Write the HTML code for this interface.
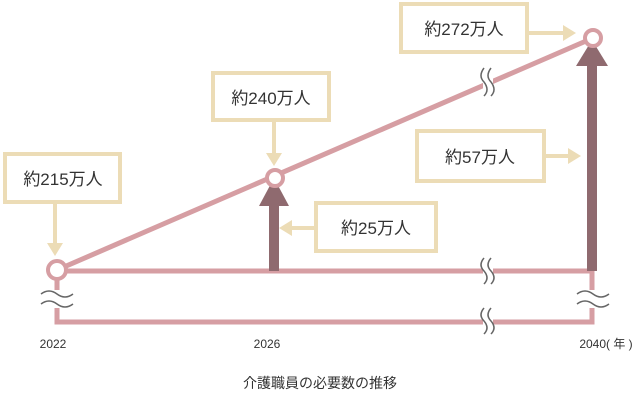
<!DOCTYPE html>
<html><head><meta charset="utf-8"><style>
body{margin:0;background:#fff;}
svg text{font-family:"Liberation Sans","Noto Sans CJK JP",sans-serif;fill:#333;}
</style></head><body>
<svg width="640" height="400" viewBox="0 0 640 400" xmlns="http://www.w3.org/2000/svg">
<g fill="none" stroke="#d69ea3" stroke-width="5">
<polyline points="57,270 57,322 592,322 592,270"/>
<line x1="57" y1="271" x2="592" y2="271"/>
<line x1="57" y1="270" x2="593" y2="38"/>
</g>
<g fill="#8f6a6f">
<rect x="269" y="198" width="10" height="73"/>
<polygon points="259,206 289,206 274,178"/>
<rect x="587" y="62" width="10" height="209"/>
<polygon points="576,66 608,66 592,40"/>
</g>
<g fill="#fff" stroke="#d69ea3" stroke-width="4">
<circle cx="57" cy="270" r="9"/>
<circle cx="275" cy="178" r="8"/>
<circle cx="593" cy="38" r="8"/>
</g>
<g fill="none" stroke="#fff" stroke-width="10">
<line x1="488" y1="62" x2="488" y2="100"/>
<line x1="488" y1="258" x2="488" y2="284"/>
<line x1="488" y1="308" x2="488" y2="336"/>
<line x1="57" y1="290" x2="57" y2="308"/>
<line x1="592" y1="290" x2="592" y2="308"/>
</g>
<g fill="none" stroke="#666" stroke-width="1.5">
<path d="M484,68 q-6,8 0,14 q6,8 0,14"/><path d="M491,68 q-6,8 0,14 q6,8 0,14"/>
<path d="M484,258 q-6,7 0,13 q6,7 0,13"/><path d="M491,258 q-6,7 0,13 q6,7 0,13"/>
<path d="M484,308 q-6,7 0,13 q6,7 0,13"/><path d="M491,308 q-6,7 0,13 q6,7 0,13"/>
<path d="M41,294 q8,-6 16,0 q8,6 16,0"/><path d="M41,304 q8,-6 16,0 q8,6 16,0"/>
<path d="M577,294 q8,-6 16,0 q8,6 16,0"/><path d="M577,304 q8,-6 16,0 q8,6 16,0"/>
</g>
<g fill="#fff" stroke="#ecdcb6" stroke-width="4">
<rect x="5" y="154" width="115" height="48"/>
<rect x="213" y="73" width="116" height="47"/>
<rect x="316" y="203" width="120" height="48"/>
<rect x="401" y="4" width="126" height="48"/>
<rect x="417" y="131" width="127" height="50"/>
</g>
<g stroke="#ecdcb6" stroke-width="4" fill="#ecdcb6">
<line x1="55" y1="202" x2="55" y2="245"/><polygon points="47,243 63,243 55,256" stroke="none"/>
<line x1="274" y1="120" x2="274" y2="155"/><polygon points="266,153 282,153 274,166" stroke="none"/>
<line x1="316" y1="228" x2="290" y2="228"/><polygon points="292,220 292,236 279,228" stroke="none"/>
<line x1="527" y1="33" x2="565" y2="33"/><polygon points="563,25 563,41 576,33" stroke="none"/>
<line x1="544" y1="156" x2="570" y2="156"/><polygon points="568,148 568,164 581,156" stroke="none"/>
</g>
<g font-size="17" text-anchor="middle">
<text x="63" y="185">約215万人</text>
<text x="271" y="104">約240万人</text>
<text x="376" y="234">約25万人</text>
<text x="464" y="35">約272万人</text>
<text x="480" y="163">約57万人</text>
</g>
<g font-size="12" text-anchor="middle">
<text x="53" y="348">2022</text>
<text x="267" y="348">2026</text>
<text x="606" y="348">2040( 年 )</text>
</g>
<text x="320" y="388" font-size="14" text-anchor="middle">介護職員の必要数の推移</text>
</svg>
</body></html>
